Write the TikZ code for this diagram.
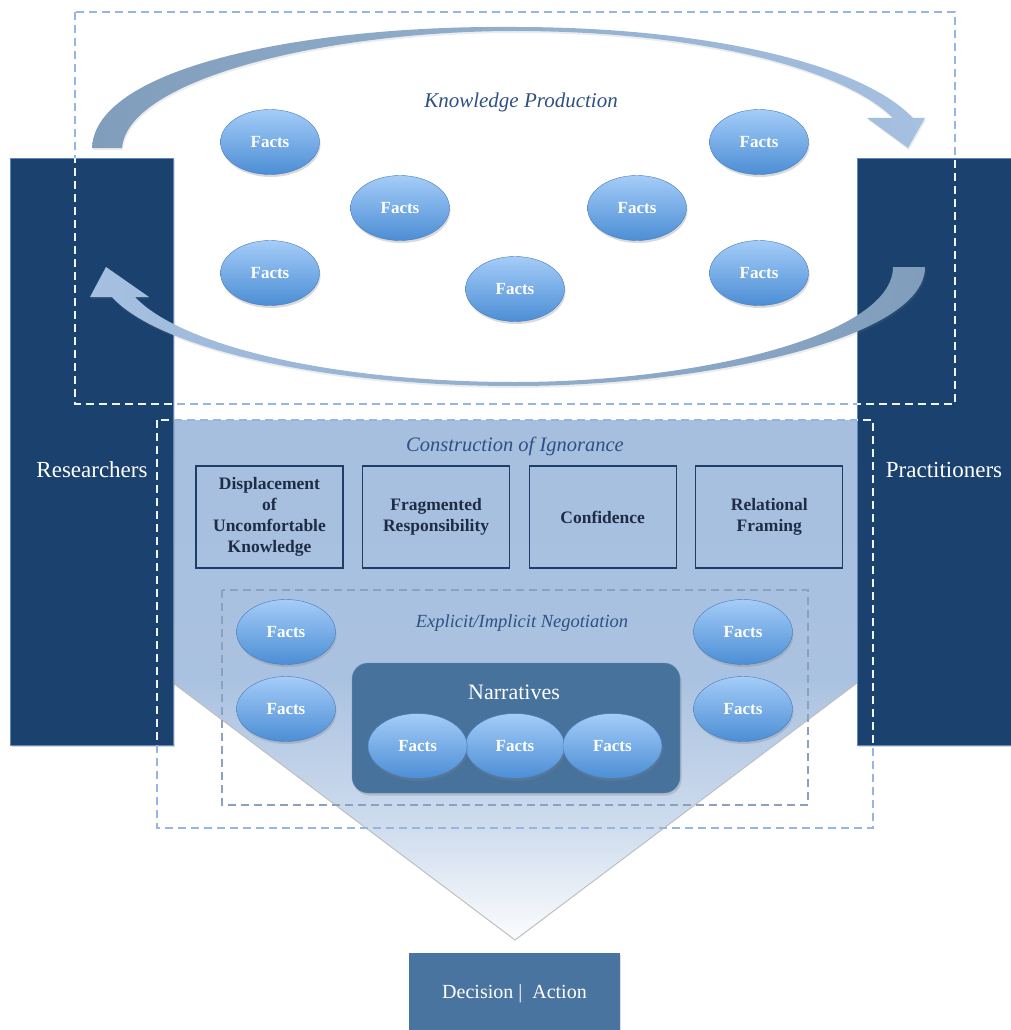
\documentclass[tikz,border=0pt]{standalone}
\usepackage{fontspec}
\setmainfont{Liberation Serif}
\usepackage{tikz}
\usetikzlibrary{shapes.geometric,shadows,positioning}
\definecolor{panel}{RGB}{27,66,110}
\definecolor{paneledge}{RGB}{95,135,185}
\definecolor{funnelfill}{RGB}{166,191,223}
\definecolor{narrfill}{RGB}{70,114,156}
\definecolor{decfill}{RGB}{74,116,160}
\definecolor{factlight}{RGB}{164,204,248}
\definecolor{factdark}{RGB}{76,142,213}
\definecolor{factedge}{RGB}{72,122,190}
\definecolor{dashblue}{RGB}{150,182,224}
\definecolor{dashgray}{RGB}{140,160,192}
\definecolor{titleblue}{RGB}{46,80,132}
\definecolor{boxtext}{RGB}{30,44,70}
\definecolor{boxedge}{RGB}{30,62,104}
\definecolor{arrowgray}{RGB}{128,157,187}
\definecolor{arrowlight}{RGB}{165,192,225}
\pgfdeclareverticalshading{funnelshade}{100bp}{color(0bp)=(white); color(25bp)=(white!96!funnelfill); color(36bp)=(funnelfill!55!white); color(50bp)=(funnelfill!95!white); color(75bp)=(funnelfill); color(100bp)=(funnelfill)}
\tikzstyle{kp_fact} = [ellipse, draw=factedge, top color=factlight, bottom color=factdark, minimum width=99pt, minimum height=65pt, inner sep=0pt, text=white, font=\fontsize{17}{20}\selectfont\bfseries, drop shadow={shadow xshift=1pt, shadow yshift=-2.5pt, opacity=0.3}]
\tikzstyle{kp_box} = [rectangle, draw=boxedge, line width=1.1pt, minimum width=147pt, minimum height=102pt, inner sep=0pt, align=center, text=boxtext, font=\fontsize{17.5}{21}\selectfont\bfseries]
\tikzstyle{kp_panel} = [rectangle, draw=paneledge, fill=panel, inner sep=0pt, drop shadow={shadow xshift=1.5pt, shadow yshift=-2pt, opacity=0.3}]
\tikzstyle{kp_side} = [text=white, font=\fontsize{23}{27}\selectfont]
\tikzstyle{kp_title} = [text=titleblue, font=\fontsize{21}{25}\selectfont\itshape]
\tikzstyle{kp_dash} = [draw=dashblue, line width=1.2pt, dash pattern=on 8pt off 5pt]
\tikzstyle{kp_dash_in} = [draw=dashgray, line width=1.2pt, dash pattern=on 8pt off 5pt]
\tikzstyle{kp_arrow} = [drop shadow={shadow xshift=1pt, shadow yshift=-2pt, opacity=0.15}]
\begin{document}
\begin{tikzpicture}[x=1pt, y=-1pt]
\useasboundingbox (0,0) rectangle (1011,1030);

% funnel
\path [shading=funnelshade]
  (173,420) -- (857,420) -- (857,683) -- (515,940) -- (173,683) -- cycle;
\draw [gray!50, line width=1pt] (173,683) -- (515,940) -- (857,683);

% side panels
\node [kp_panel, minimum width=163pt, minimum height=587pt] (researchers) at (91.5,451.5) {};
\node [kp_panel, minimum width=160pt, minimum height=587pt] (practitioners) at (937,451.5) {};
\node [kp_side] (res_lbl) at (92,470) {Researchers};
\node [kp_side] (pra_lbl) at (944,470) {Practitioners};

% dashed frames
\draw [kp_dash] (75,12) rectangle (955,404);
\draw [kp_dash] (157,420) rectangle (873,828);
\draw [kp_dash_in] (222,590) rectangle (808,805);
\begin{scope}
  \clip (10,158) rectangle (173,745) (857,158) rectangle (1011,745);
  \draw [kp_dash, draw=white!85!dashblue] (75,12) rectangle (955,404);
  \draw [kp_dash, draw=white!85!dashblue] (157,420) rectangle (873,828);
\end{scope}

% knowledge production cycle
\shade [kp_arrow, left color=arrowgray, right color=arrowlight]
  (92,148) .. controls (95,66) and (310,25) .. (515,27)
  .. controls (700,27) and (860,62) .. (913,118)
  -- (925,118) -- (908,148) -- (867,118) -- (893,118)
  .. controls (840,66) and (690,31) .. (515,31)
  .. controls (330,31) and (128,78) .. (122,148) -- cycle;
\shade [kp_arrow, left color=arrowlight, right color=arrowgray]
  (925,267) .. controls (925,340) and (700,386) .. (515,386)
  .. controls (330,386) and (160,350) .. (112,297)
  -- (90,297) -- (106,267) -- (149,297) -- (135,297)
  .. controls (180,345) and (330,382) .. (515,382)
  .. controls (700,382) and (893,335) .. (893,267) -- cycle;
\node [kp_title] (kp_lbl) at (521,102) {Knowledge Production};

\node [kp_fact] (f1) at (270,142) {Facts};
\node [kp_fact] (f2) at (400,208) {Facts};
\node [kp_fact] (f3) at (270,273) {Facts};
\node [kp_fact] (f4) at (515,289) {Facts};
\node [kp_fact] (f5) at (637,208) {Facts};
\node [kp_fact] (f6) at (759,142) {Facts};
\node [kp_fact] (f7) at (759,273) {Facts};

% construction of ignorance
\node [kp_title, font=\fontsize{20.5}{24}\selectfont\itshape] (ci_lbl) at (515,446) {Construction of Ignorance};
\node [kp_box] (b1) at (269.5,517) {Displacement\\of\\Uncomfortable\\Knowledge};
\node [kp_box, right=18.5pt of b1] (b2) {Fragmented\\Responsibility};
\node [kp_box, right=18.5pt of b2] (b3) {Confidence};
\node [kp_box, right=18.5pt of b3] (b4) {Relational\\Framing};

% negotiation
\node [kp_title, font=\fontsize{18.5}{22}\selectfont\itshape] (neg_lbl) at (522,623) {Explicit/Implicit Negotiation};
\node [kp_fact] (g1) at (286,632) {Facts};
\node [kp_fact] (g2) at (286,709) {Facts};
\node [kp_fact] (g3) at (743,632) {Facts};
\node [kp_fact] (g4) at (743,709) {Facts};

\node [rectangle, rounded corners=16pt, fill=narrfill, draw=narrfill!80!white, minimum width=328pt, minimum height=130pt,
  drop shadow={shadow xshift=1.5pt, shadow yshift=-2.5pt, opacity=0.3}] (narr) at (516,728) {};
\node [text=white, font=\fontsize{22}{26}\selectfont] (narr_lbl) at (514,692) {Narratives};
\node [kp_fact] (n2) at (515,746) {Facts};
\node [kp_fact, left=-2pt of n2] (n1) {Facts};
\node [kp_fact, right=-2pt of n2] (n3) {Facts};

% outcome
\node [rectangle, fill=decfill, minimum width=211pt, minimum height=82pt, text=white, font=\fontsize{20}{24}\selectfont,
  drop shadow={shadow xshift=1pt, shadow yshift=-1.5pt, opacity=0.25}] (decision) at (514.5,994) {Decision |\ \ Action};
\end{tikzpicture}
\end{document}
